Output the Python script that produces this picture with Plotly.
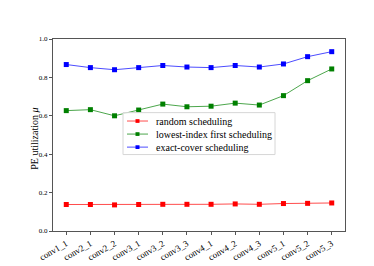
import plotly.graph_objects as go

layers = ["conv1_1", "conv2_1", "conv2_2", "conv3_1", "conv3_2", "conv3_3",
          "conv4_1", "conv4_2", "conv4_3", "conv5_1", "conv5_2", "conv5_3"]
random_sched = [0.138, 0.138, 0.136, 0.138, 0.139, 0.139, 0.139, 0.141, 0.139, 0.143, 0.144, 0.146]
lowest_index = [0.627, 0.632, 0.600, 0.630, 0.661, 0.647, 0.650, 0.666, 0.656, 0.705, 0.783, 0.844]
exact_cover = [0.867, 0.851, 0.840, 0.851, 0.862, 0.854, 0.851, 0.862, 0.854, 0.870, 0.908, 0.934]
y_ticks = [0.0, 0.2, 0.4, 0.6, 0.8, 1.0]

series = [
    ("random scheduling", random_sched, "rgb(255,0,0)", "rgba(255,0,0,0.7)"),
    ("lowest-index first scheduling", lowest_index, "rgb(0,128,0)", "rgba(0,128,0,0.7)"),
    ("exact-cover scheduling", exact_cover, "rgb(0,0,255)", "rgba(0,0,255,0.7)"),
]

FONT = "Liberation Serif, Times New Roman, serif"
W, H = 374, 266
L, R, T, B = 45, 37, 31, 29
PW, PH = W - L - R, H - T - B
xi = list(range(len(layers)))


def px(xp):
    return (xp - L) / PW


def py(yp):
    return (H - B - yp) / PH


fig = go.Figure()
for name, vals, col, lcol in series:
    fig.add_trace(go.Scatter(
        x=xi, y=vals, name=name, mode="lines+markers",
        line=dict(color=lcol, width=1),
        marker=dict(symbol="square", size=5, color=col, line=dict(width=0)),
        showlegend=False,
    ))

# manual matplotlib-style legend
shapes = [dict(type="rect", xref="paper", yref="paper",
               x0=px(115), x1=px(267), y0=py(155), y1=py(110),
               fillcolor="rgba(255,255,255,0.8)", line=dict(color="#d6d6d6", width=1),
               layer="above")]
annotations = []
rows = [119, 133, 147]
for (name, vals, col, lcol), ry in zip(series, rows):
    shapes.append(dict(type="line", xref="paper", yref="paper",
                       x0=px(119), x1=px(140), y0=py(ry), y1=py(ry),
                       line=dict(color=lcol, width=1), layer="above"))
    shapes.append(dict(type="rect", xref="paper", yref="paper",
                       x0=px(127.5), x1=px(131.5), y0=py(ry + 2), y1=py(ry - 2),
                       fillcolor=col, line=dict(width=0), layer="above"))
    annotations.append(dict(xref="paper", yref="paper", x=px(146), y=py(ry),
                            xanchor="left", yanchor="middle", text=name, showarrow=False,
                            font=dict(family=FONT, size=10, color="black")))

annotations.append(dict(xref="paper", yref="paper", x=px(27), y=py(138),
                        xanchor="center", yanchor="middle", textangle=-90,
                        text="PE utilization <i>μ</i>", showarrow=False,
                        font=dict(family=FONT, size=10, color="black")))

fig.update_layout(
    width=W, height=H,
    margin=dict(l=L, r=R, t=T, b=B),
    paper_bgcolor="white", plot_bgcolor="white",
    font=dict(family=FONT, size=9, color="black"),
    showlegend=False,
    shapes=shapes, annotations=annotations,
)
fig.update_xaxes(
    range=[-0.55, 11.55], tickmode="array", tickvals=xi, ticktext=layers,
    tickangle=-30, showline=True, linecolor="#555555", linewidth=1, mirror=True,
    ticks="outside", ticklen=3, tickcolor="#555555", showgrid=False, zeroline=False,
    tickfont=dict(family=FONT, size=9),
)
fig.update_yaxes(
    range=[0, 1.0], tickmode="array", tickvals=y_ticks,
    ticktext=[f"{v:.1f}" for v in y_ticks],
    showline=True, linecolor="#555555", linewidth=1, mirror=True,
    ticks="outside", ticklen=3, tickcolor="#555555", showgrid=False, zeroline=False,
    tickfont=dict(family=FONT, size=7),
)

fig.write_html("out.html")
